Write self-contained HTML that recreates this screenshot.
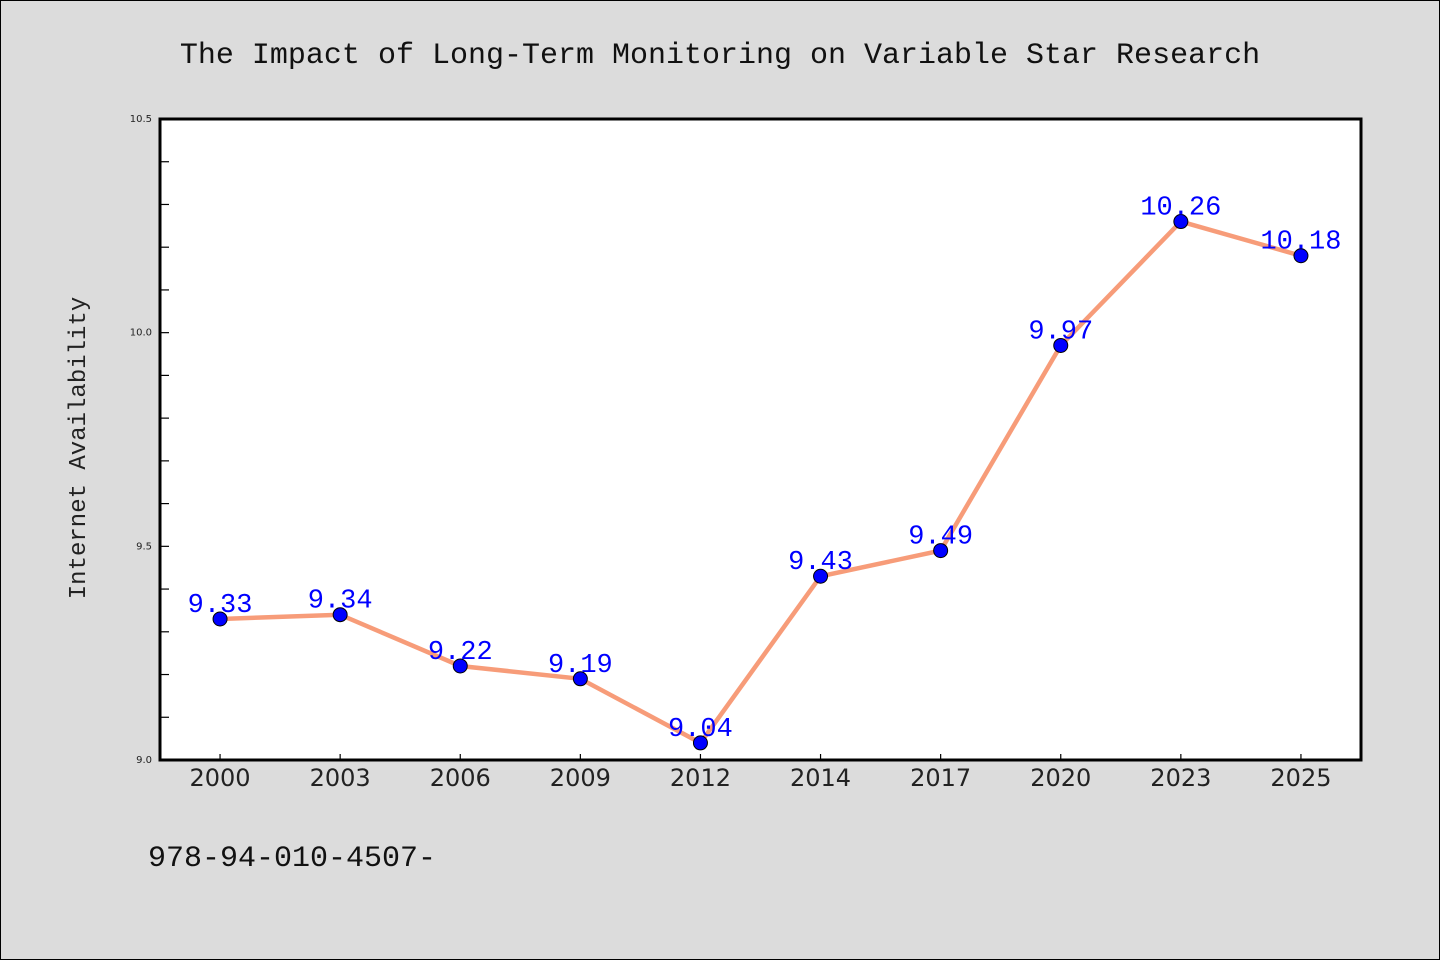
<!DOCTYPE html>
<html><head><meta charset="utf-8"><style>
html,body{margin:0;padding:0;background:#dcdcdc;}
svg{display:block;}
text{font-family:"Liberation Mono",monospace;}
</style></head><body>
<svg id="chart" width="1440" height="960" viewBox="0 0 1440 960">
<rect x="0.5" y="0.5" width="1439" height="959" fill="#dcdcdc" stroke="#000"/>
<text x="720" y="63" text-anchor="middle" font-size="30" fill="#111">The Impact of Long-Term Monitoring on Variable Star Research</text>
<rect x="160" y="119" width="1201" height="641" fill="#fff"/>
<g id="ticks"></g>
<g id="marks"></g>
<rect x="160" y="119" width="1201" height="641" fill="none" stroke="#000" stroke-width="3"/>
<text transform="translate(85,448) rotate(-90)" text-anchor="middle" font-size="24" fill="#222">Internet Availability</text>
<text x="148" y="866" font-size="30" fill="#111">978-94-010-4507-</text>
</svg>
<script>
const categories=["2000","2003","2006","2009","2012","2014","2017","2020","2023","2025"];
const values=[9.33,9.34,9.22,9.19,9.04,9.43,9.49,9.97,10.26,10.18];
const yTicks=[9.0,9.5,10.0,10.5];
const yMin=9.0,yMax=10.5,pL=160,pR=1361,pT=119,pB=760;
const NS="http://www.w3.org/2000/svg";
const step=(pR-pL)/categories.length;
function xs(i){return pL+step/2+i*step;}
function ys(v){return pB-(v-yMin)/(yMax-yMin)*(pB-pT);}
function mk(t,a,p){const e=document.createElementNS(NS,t);for(const k in a)e.setAttribute(k,a[k]);p.appendChild(e);return e;}
const tg=document.getElementById('ticks'),mg=document.getElementById('marks');
for(let v=yMin;v<=yMax+1e-9;v+=0.1){
  const l=mk('line',{x1:pL,x2:pL+9,y1:ys(v),y2:ys(v),stroke:'#000','stroke-width':1.2},tg);
  
  
}
yTicks.forEach(v=>{
  const t=mk('text',{x:pL-8,y:ys(v)+3,'text-anchor':'end','font-size':10,fill:'#222',style:'font-family:"DejaVu Sans",sans-serif'},tg);
  t.textContent=v.toFixed(1);
  
  
});
categories.forEach((c,i)=>{
  const l=mk('line',{x1:xs(i),x2:xs(i),y1:pB,y2:pB-6,stroke:'#000','stroke-width':1.2},tg);
  
  
  const t=mk('text',{x:xs(i),y:pB+26,'text-anchor':'middle','font-size':24,fill:'#222',style:'font-family:"DejaVu Sans",sans-serif'},tg);
  t.textContent=c;
  
  
});
const line=mk('polyline',{points:values.map((v,i)=>xs(i)+','+ys(v)).join(' '),fill:'none',stroke:'#f79c79','stroke-width':4.5},mg);


values.forEach((v,i)=>{
  const c=mk('circle',{cx:xs(i),cy:ys(v),r:7,fill:'#0000ff',stroke:'#000','stroke-width':1},mg);
  
  
  const t=mk('text',{x:xs(i),y:ys(v)-7,'text-anchor':'middle','font-size':27,fill:'#0000ff'},mg);
  t.textContent=v.toFixed(2);
  
  
});
</script>
</body></html>
